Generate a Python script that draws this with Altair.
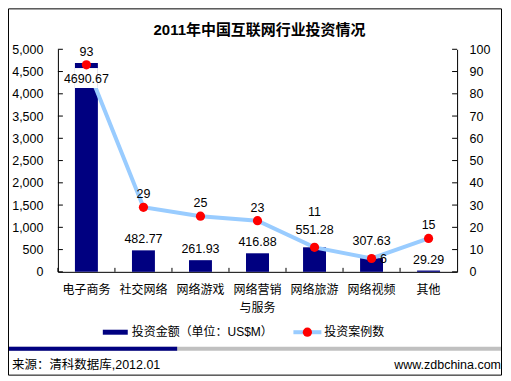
import altair as alt
import pandas as pd

categories = ["电子商务", "社交网络", "网络游戏", "网络营销与服务", "网络旅游", "网络视频", "其他"]
amounts = [4690.67, 482.77, 261.93, 416.88, 551.28, 307.63, 29.29]
counts = [93, 29, 25, 23, 11, 6, 15]
left_ticks = [0, 500, 1000, 1500, 2000, 2500, 3000, 3500, 4000, 4500, 5000]
right_ticks = [0, 10, 20, 30, 40, 50, 60, 70, 80, 90, 100]

title_text = "2011年中国互联网行业投资情况"
legend_bar = "投资金额（单位：US$M）"
legend_line = "投资案例数"
source_text = "来源：清科数据库,2012.01"
site_text = "www.zdbchina.com"

df = pd.DataFrame({"cat": categories, "amount": amounts, "count": counts})
dummy = pd.DataFrame({"d": [0]})

FONT = "Liberation Sans, Arial, Noto Sans CJK SC"
NAVY = "#000080"
LBLUE = "#99CCFF"
RED = "#FF0000"

W, H = 400, 223

xs = alt.Scale(paddingInner=0, paddingOuter=0)
ysl = alt.Scale(domain=[0, 5000], nice=False)
ysr = alt.Scale(domain=[0, 100], nice=False)

x_axis = alt.Axis(
    title=None, labelAngle=0, ticks=False, domainColor="black",
    labelColor="black", labelFontSize=12, labelFont=FONT, labelPadding=13,
    labelLineHeight=18, labelOverlap=False, labelBound=False,
    labelExpr="datum.value == '网络营销与服务' ? ['网络营销', '与服务'] : datum.value",
)

def xenc(**kw):
    return alt.X("cat:N", sort=categories, scale=xs, axis=x_axis, title=None, **kw)

yl_axis = alt.Axis(
    title=None, values=left_ticks, format=",d", ticks=False, grid=False,
    domainColor="black", labelColor="black", labelFontSize=12.5,
    labelFont=FONT, labelPadding=15,
)
yr_axis = alt.Axis(
    title=None, orient="right", values=right_ticks, format="d", ticks=False,
    grid=False, domainColor="black", labelColor="black", labelFontSize=12.5,
    labelFont=FONT, labelPadding=12,
)

bars = alt.Chart(df).mark_bar(size=23, color=NAVY).encode(
    x=xenc(), y=alt.Y("amount:Q", scale=ysl, axis=yl_axis)
)

line = alt.Chart(df).mark_line(color=LBLUE, strokeWidth=4).encode(
    x=xenc(), y=alt.Y("count:Q", scale=ysr, axis=yr_axis)
)

first = df[df["cat"] == "电子商务"]
white_box = alt.Chart(first).mark_bar(size=23, color="white", yOffset=5, y2Offset=25).encode(
    x=xenc(), y=alt.Y("amount:Q", scale=ysl, axis=None), y2="amount:Q"
)

def amt_text(data, dy):
    return alt.Chart(data).mark_text(
        dy=dy, fontSize=12.5, font=FONT, color="black", baseline="middle"
    ).encode(
        x=xenc(), y=alt.Y("amount:Q", scale=ysl, axis=None),
        text=alt.Text("amount:Q", format=".2f"),
    )

amt_first = amt_text(first, 16)
amt_normal = amt_text(df[df["cat"].isin(["社交网络", "网络游戏", "网络营销与服务", "其他"])], -11)
amt_high = amt_text(df[df["cat"].isin(["网络旅游", "网络视频"])], -17)

dots = alt.Chart(df).mark_point(filled=True, color=RED, size=85, opacity=1, shape="circle").encode(
    x=xenc(), y=alt.Y("count:Q", scale=ysr, axis=None)
)

def cnt_text(data, dx, dy):
    return alt.Chart(data).mark_text(
        dx=dx, dy=dy, fontSize=12.5, font=FONT, color="black", baseline="middle"
    ).encode(
        x=xenc(), y=alt.Y("count:Q", scale=ysr, axis=None),
        text=alt.Text("count:Q", format="d"),
    )

cnt_normal = cnt_text(df[~df["cat"].isin(["网络旅游", "网络视频"])], 0, -13)
cnt_travel = cnt_text(df[df["cat"] == "网络旅游"], 0, -35)
cnt_video = cnt_text(df[df["cat"] == "网络视频"], 12, 1)

lt = pd.DataFrame({"v": left_ticks})
rt = pd.DataFrame({"v": right_ticks})
left_tick_marks = alt.Chart(lt).mark_rule(color="black", strokeWidth=1).encode(
    y=alt.Y("v:Q", scale=ysl, axis=None), x=alt.value(0), x2=alt.value(5)
)
right_tick_marks = alt.Chart(rt).mark_rule(color="black", strokeWidth=1).encode(
    y=alt.Y("v:Q", scale=ysr, axis=None), x=alt.value(W - 5), x2=alt.value(W)
)
x_tick_marks = alt.Chart(df).mark_rule(color="black", strokeWidth=1).encode(
    x=xenc(bandPosition=0),
    y=alt.value(H), y2=alt.value(H - 4),
)

def txt(x, y, s, size=12, weight="normal", align="left"):
    return alt.Chart(dummy).mark_text(
        fontSize=size, fontWeight=weight, align=align, baseline="middle",
        font=FONT, color="black",
    ).encode(x=alt.value(x), y=alt.value(y), text=alt.value(s))

def rect(x, x2, y, y2, color):
    return alt.Chart(dummy).mark_rect(color=color).encode(
        x=alt.value(x), x2=alt.value(x2), y=alt.value(y), y2=alt.value(y2)
    )

title = txt(202, -19, title_text, size=15, weight="bold", align="center")
leg_bar = rect(45, 70, 281, 286, NAVY)
leg_bar_t = txt(74, 283.5, legend_bar)
leg_line = alt.Chart(dummy).mark_rule(color=LBLUE, strokeWidth=4).encode(
    x=alt.value(236), x2=alt.value(264), y=alt.value(283.5)
)
leg_dot = alt.Chart(dummy).mark_point(filled=True, color=RED, size=85, opacity=1).encode(
    x=alt.value(250), y=alt.value(283.5)
)
leg_line_t = txt(267, 283.5, legend_line)
band_gray = rect(-50, 445, 298, 302, "#C0C0C0")
band_navy = rect(-50, 119.5, 298, 302, NAVY)
src = txt(-46, 316, source_text, size=12.5)
site = txt(444, 316, site_text, size=12.5, align="right")
border = alt.Chart(dummy).mark_rect(fill="transparent", stroke="black", strokeWidth=1).encode(
    x=alt.value(-49.5), x2=alt.value(444.5), y=alt.value(-40.5), y2=alt.value(326.5)
)

chart = alt.layer(
    bars, line, white_box, amt_first, amt_normal, amt_high, dots,
    cnt_normal, cnt_travel, cnt_video,
    left_tick_marks, right_tick_marks, x_tick_marks,
    title, leg_bar, leg_bar_t, leg_line, leg_dot, leg_line_t,
    band_gray, band_navy, src, site, border,
).resolve_scale(y="independent").properties(
    width=W, height=H,
    autosize=alt.AutoSizeParams(type="none"),
    padding={"left": 50, "top": 41, "right": 46, "bottom": 104},
    background="white",
).configure_view(stroke=None)

chart.save("out.html", embed_options={"renderer": "svg", "actions": False})
